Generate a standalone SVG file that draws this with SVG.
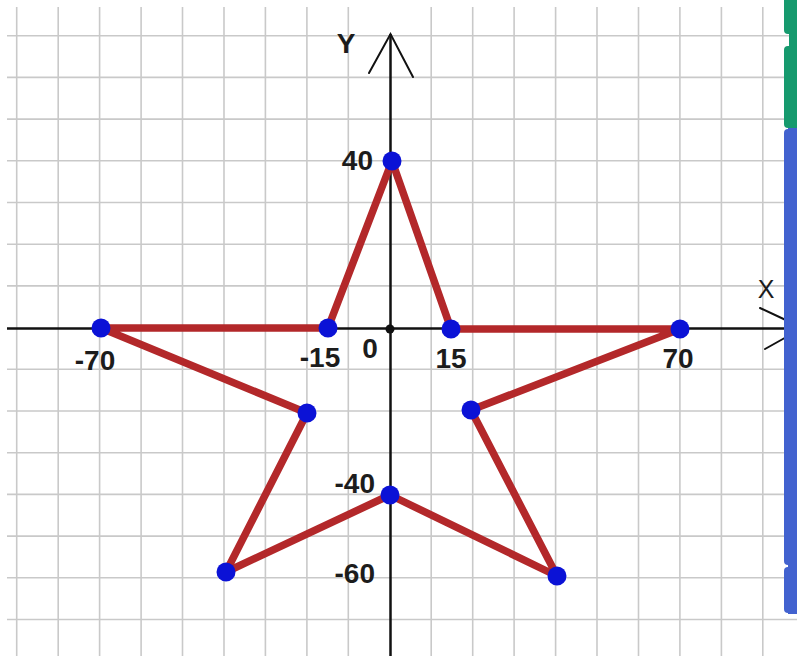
<svg xmlns="http://www.w3.org/2000/svg" width="797" height="656" viewBox="0 0 797 656">
<style>
.grid line{stroke:#c9c9c9;stroke-width:1.6}
.axis{stroke:#111;stroke-width:2.5;fill:none}
.arr{stroke:#111;stroke-width:2;fill:none;stroke-linecap:round}
.star{stroke:#b3282a;stroke-width:7.5;fill:none;stroke-linejoin:round;stroke-linecap:round}
.pt{fill:#0b12d6}
.lbl{font-family:"Liberation Sans",Arial,sans-serif;font-weight:bold;font-size:28px;fill:#1c1c1c}
.ax{font-family:"Liberation Sans",Arial,sans-serif;font-size:25px;fill:#1c1c1c}
</style>
<rect x="0" y="0" width="797" height="656" fill="#ffffff"/>
<g id="grid" class="grid">
<line x1="16.7" y1="7" x2="16.7" y2="656"/>
<line x1="58.2" y1="7" x2="58.2" y2="656"/>
<line x1="99.6" y1="7" x2="99.6" y2="656"/>
<line x1="141.1" y1="7" x2="141.1" y2="656"/>
<line x1="182.5" y1="7" x2="182.5" y2="656"/>
<line x1="224" y1="7" x2="224" y2="656"/>
<line x1="265.4" y1="7" x2="265.4" y2="656"/>
<line x1="306.9" y1="7" x2="306.9" y2="656"/>
<line x1="348.3" y1="7" x2="348.3" y2="656"/>
<line x1="431.2" y1="7" x2="431.2" y2="656"/>
<line x1="472.7" y1="7" x2="472.7" y2="656"/>
<line x1="514.1" y1="7" x2="514.1" y2="656"/>
<line x1="555.6" y1="7" x2="555.6" y2="656"/>
<line x1="597" y1="7" x2="597" y2="656"/>
<line x1="638.5" y1="7" x2="638.5" y2="656"/>
<line x1="679.9" y1="7" x2="679.9" y2="656"/>
<line x1="721.4" y1="7" x2="721.4" y2="656"/>
<line x1="762.8" y1="7" x2="762.8" y2="656"/>
<line x1="7" y1="35.7" x2="797" y2="35.7"/>
<line x1="7" y1="77.4" x2="797" y2="77.4"/>
<line x1="7" y1="119.1" x2="797" y2="119.1"/>
<line x1="7" y1="160.8" x2="797" y2="160.8"/>
<line x1="7" y1="202.5" x2="797" y2="202.5"/>
<line x1="7" y1="244.2" x2="797" y2="244.2"/>
<line x1="7" y1="285.9" x2="797" y2="285.9"/>
<line x1="7" y1="369.3" x2="797" y2="369.3"/>
<line x1="7" y1="411" x2="797" y2="411"/>
<line x1="7" y1="452.7" x2="797" y2="452.7"/>
<line x1="7" y1="494.4" x2="797" y2="494.4"/>
<line x1="7" y1="536.1" x2="797" y2="536.1"/>
<line x1="7" y1="577.8" x2="797" y2="577.8"/>
<line x1="7" y1="619.5" x2="797" y2="619.5"/>
</g>
<g id="axes">
<line class="axis" x1="7" y1="328.5" x2="793" y2="328.5"/>
<line class="axis" x1="390.5" y1="34" x2="390.5" y2="656"/>
<polyline class="arr" points="369,73 390.5,34 413,77"/>
<line class="arr" x1="760" y1="308" x2="790" y2="322"/>
<line class="arr" x1="765" y1="349" x2="790" y2="335"/>
<text class="lbl" x="346" y="53" text-anchor="middle">Y</text>
<text class="ax" x="766" y="298" text-anchor="middle">X</text>
<circle cx="390" cy="329" r="4.5" fill="#111"/>
</g>
<g id="connectors">
<polygon class="star" points="101,328 328,328 392,161 451,329 680,329 471,410 557,576 390,495 226,572 307,413"/>
</g>
<g id="points">
<circle id="p-70" class="pt" cx="101" cy="328" r="9.5"/>
<circle id="p-15" class="pt" cx="328" cy="328" r="9.5"/>
<circle id="p40" class="pt" cx="392" cy="161" r="9.5"/>
<circle id="p15" class="pt" cx="451" cy="329" r="9.5"/>
<circle id="p70" class="pt" cx="680" cy="329" r="9.5"/>
<circle id="pR" class="pt" cx="471" cy="410" r="9.5"/>
<circle id="pBR" class="pt" cx="557" cy="576" r="9.5"/>
<circle id="p-40" class="pt" cx="390" cy="495" r="9.5"/>
<circle id="pBL" class="pt" cx="226" cy="572" r="9.5"/>
<circle id="pL" class="pt" cx="307" cy="413" r="9.5"/>
</g>
<g id="labels">
<text class="lbl" x="373" y="170" text-anchor="end">40</text>
<text class="lbl" x="95" y="370" text-anchor="middle">-70</text>
<text class="lbl" x="320" y="367" text-anchor="middle">-15</text>
<text class="lbl" x="370" y="358" text-anchor="middle" font-size="25">0</text>
<text class="lbl" x="451" y="368" text-anchor="middle">15</text>
<text class="lbl" x="678" y="368" text-anchor="middle">70</text>
<text class="lbl" x="375" y="493" text-anchor="end">-40</text>
<text class="lbl" x="375" y="583" text-anchor="end">-60</text>
</g>
<g id="sidebar">
<rect x="789" y="-6" width="15" height="140" fill="#169a6e"/>
<rect x="784" y="-6" width="20" height="40" rx="4" fill="#169a6e"/>
<rect x="784" y="46" width="20" height="82" rx="4" fill="#169a6e"/>
<rect x="788" y="128" width="16" height="486" fill="#4262cf"/>
<rect x="784" y="129" width="20" height="436" rx="4" fill="#4262cf"/>
<rect x="784" y="567" width="20" height="46" rx="4" fill="#4262cf"/>
</g>
</svg>
